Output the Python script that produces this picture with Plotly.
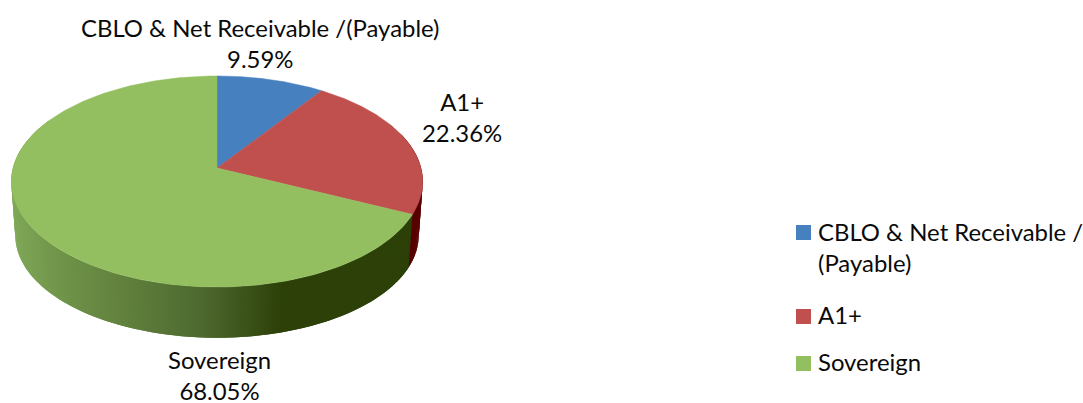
import numpy as np
import plotly.graph_objects as go

categories = ["CBLO & Net Receivable /(Payable)", "A1+", "Sovereign"]
legend_labels = ["CBLO & Net Receivable /<br>(Payable)", "A1+", "Sovereign"]
values = [9.59, 22.36, 68.05]
top_colors = ["#4780BE", "#C0504E", "#93BF60"]
side_stops_x = [11, 60, 120, 200, 285, 423]
side_stops_rgb = [(128, 168, 88), (112, 148, 74), (98, 130, 62), (78, 106, 48), (44, 64, 8), (44, 64, 8)]
red_side = (88, 0, 0)
label_xy = [(260, 43), (462, 117), (219, 375)]
legend_marker_y = [232.5, 316.5, 363.5]
legend_text_y = [247, 314.5, 361.5]

FONT = "Lato"
FS = 23.9


def project(theta, a=204.0, b=103.8, k=0.128, cx=217.0, cy=168.0):
    w = 1 + k * np.cos(theta)
    return cx + a * np.sin(theta) / w, cy - b * np.cos(theta) / w


def bottom(theta):
    return project(theta, a=200.0, b=100.5, cy=222.5)


edges = np.radians(np.cumsum([0] + values) * 3.6)
fig = go.Figure()

# side wall: thin overlapping facets, painted in order, coloured by horizontal position
facets = np.radians(np.arange(70, 300, 1.0))
for i in range(len(facets) - 2):
    t0, t1, t2 = facets[i], facets[i + 1], facets[i + 2]
    xt, yt = project(np.array([t0, t2]))
    xb, yb = bottom(np.array([t2, t0]))
    xm = (project(t0)[0] + project(t1)[0]) / 2
    if (t0 + t1) / 2 < edges[2]:
        rgb = red_side
    else:
        rgb = [np.interp(xm, side_stops_x, [c[j] for c in side_stops_rgb]) for j in range(3)]
    col = "rgb(%d,%d,%d)" % tuple(rgb)
    fig.add_trace(go.Scatter(
        x=np.r_[xt, xb, xt[0]], y=np.r_[yt, yb, yt[0]], mode="lines", fill="toself",
        fillcolor=col, line=dict(width=0), hoverinfo="skip", showlegend=False))

# top faces
for v0, v1, c, name in zip(edges[:-1], edges[1:], top_colors, categories):
    th = np.linspace(v0, v1, 200)
    xr, yr = project(th)
    fig.add_trace(go.Scatter(
        x=np.r_[217.0, xr, 217.0], y=np.r_[168.0, yr, 168.0], mode="lines", fill="toself",
        fillcolor=c, line=dict(color=c, width=0.5), name=name, hoverinfo="skip", showlegend=False))

# data labels
for cat, v, (lx, ly) in zip(categories, values, label_xy):
    fig.add_annotation(
        x=lx, y=ly, xref="x", yref="y", text=f"{cat}<br>{v:.2f}%", showarrow=False,
        font=dict(family=FONT, size=FS, color="#0a0a0a"), align="center")

# legend
fig.add_trace(go.Scatter(
    x=[803.5] * len(top_colors), y=legend_marker_y, mode="markers", hoverinfo="skip", showlegend=False,
    marker=dict(symbol="square", size=15, color=top_colors, line=dict(width=0))))
for lab, ty in zip(legend_labels, legend_text_y):
    fig.add_annotation(
        x=816, y=ty, xref="x", yref="y", text=lab, showarrow=False, xanchor="left", yanchor="middle",
        font=dict(family=FONT, size=FS, color="#0a0a0a"), align="left")

fig.update_layout(
    width=1083, height=403, margin=dict(l=0, r=0, t=0, b=0),
    paper_bgcolor="white", plot_bgcolor="white", showlegend=False,
    xaxis=dict(range=[0, 1083], visible=False, fixedrange=True),
    yaxis=dict(range=[403, 0], visible=False, fixedrange=True),
)
fig.write_html("out.html", config={"displayModeBar": False},
               post_script="document.body.style.margin='0';document.body.style.overflow='hidden';")
